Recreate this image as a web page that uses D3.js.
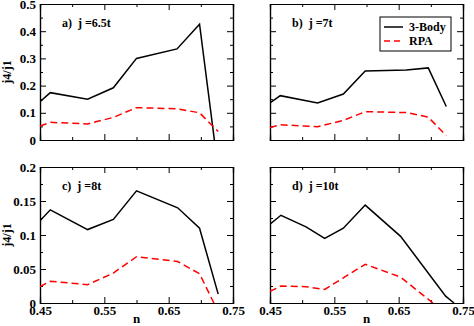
<!DOCTYPE html>
<html>
<head>
<meta charset="utf-8">
<script src="https://cdn.jsdelivr.net/npm/d3@7"></script>
<style>
  body { margin: 0; background: #fff; }
  svg text { font-family: "Liberation Serif", "Times New Roman", serif; font-weight: bold; }
</style>
</head>
<body>
<div id="chart"></div>
<script>
// data
var nA = [0.45, 0.466, 0.524, 0.564, 0.600, 0.663, 0.698, 0.727];
var bodyA = [0.141, 0.174, 0.150, 0.192, 0.300, 0.335, 0.426, -0.11];
var rpaA = [0.051, 0.065, 0.059, 0.083, 0.119, 0.115, 0.100, 0.031];

var nB = [0.45, 0.466, 0.524, 0.564, 0.598, 0.662, 0.696, 0.724];
var bodyB = [0.136, 0.163, 0.136, 0.169, 0.254, 0.257, 0.265, 0.123];
var rpaB = [0.046, 0.056, 0.049, 0.072, 0.104, 0.101, 0.084, 0.016];

var nC = [0.45, 0.466, 0.524, 0.564, 0.600, 0.664, 0.698, 0.727];
var bodyC = [0.121, 0.137, 0.108, 0.123, 0.165, 0.140, 0.110, 0.013];
var rpaC = [0.024, 0.032, 0.027, 0.044, 0.068, 0.061, 0.043, -0.013];

var nD = [0.45, 0.467, 0.506, 0.535, 0.564, 0.598, 0.653, 0.723, 0.736];
var bodyD = [0.116, 0.129, 0.112, 0.095, 0.110, 0.144, 0.098, 0.010, 0.0];
var rpaD = [0.017, 0.025, 0.024, 0.020, 0.037, 0.057, 0.038, -0.015, -0.03];

var xMajor = [0.45, 0.55, 0.65, 0.75];
var xMinor = [0.5, 0.6, 0.7];
var yMajorTop = [0, 0.1, 0.2, 0.3, 0.4, 0.5];
var yMinorTop = [0.05, 0.15, 0.25, 0.35, 0.45];
var yMajorBot = [0, 0.05, 0.1, 0.15, 0.2];
var yMinorBot = [0.025, 0.075, 0.125, 0.175];
var seriesNames = ["3-Body", "RPA"];

var width = 474, height = 326;

var svg = d3.select("#chart")
  .append("svg")
    .attr("width", width)
    .attr("height", height);

var panels = [
  {id: "a", left: 40, top: 4, n: nA, body: bodyA, rpa: rpaA, yMax: 0.5, yMaj: yMajorTop, yMin: yMinorTop, label: "a)  j =6.5t", yLabels: true, xLabels: false},
  {id: "b", left: 270, top: 4, n: nB, body: bodyB, rpa: rpaB, yMax: 0.5, yMaj: yMajorTop, yMin: yMinorTop, label: "b)  j =7t", yLabels: false, xLabels: false, legend: true},
  {id: "c", left: 40, top: 167, n: nC, body: bodyC, rpa: rpaC, yMax: 0.2, yMaj: yMajorBot, yMin: yMinorBot, label: "c)  j =8t", yLabels: true, xLabels: true},
  {id: "d", left: 270, top: 167, n: nD, body: bodyD, rpa: rpaD, yMax: 0.2, yMaj: yMajorBot, yMin: yMinorBot, label: "d)  j =10t", yLabels: false, xLabels: true}
];

var pw = 193, ph = 136;

var fmt = function(d){ return d === 0 ? "0" : String(+d.toFixed(3)); };

panels.forEach(function(p){
  var g = svg.append("g")
    .attr("transform", "translate(" + p.left + "," + p.top + ")");

  var x = d3.scaleLinear().domain([0.45, 0.75]).range([0, pw]);
  var y = d3.scaleLinear().domain([0, p.yMax]).range([ph, 0]);

  g.append("clipPath").attr("id", "clip" + p.id)
    .append("rect").attr("width", pw).attr("height", ph);

  // axes, ticks pointing inward
  g.append("g").attr("transform", "translate(0," + ph + ")")
    .call(d3.axisBottom(x).tickValues(xMajor).tickSize(-6).tickPadding(3)
      .tickFormat(p.xLabels ? fmt : function(){ return ""; }));
  g.append("g").attr("transform", "translate(0," + ph + ")")
    .call(d3.axisBottom(x).tickValues(xMinor).tickSize(-3).tickFormat(""));
  g.append("g")
    .call(d3.axisTop(x).tickValues(xMajor).tickSize(-6).tickFormat(""));
  g.append("g")
    .call(d3.axisTop(x).tickValues(xMinor).tickSize(-3).tickFormat(""));

  g.append("g")
    .call(d3.axisLeft(y).tickValues(p.yMaj).tickSize(-6).tickPadding(4)
      .tickFormat(p.yLabels ? fmt : function(){ return ""; }));
  g.append("g")
    .call(d3.axisLeft(y).tickValues(p.yMin).tickSize(-3).tickFormat(""));
  g.append("g").attr("transform", "translate(" + pw + ",0)")
    .call(d3.axisRight(y).tickValues(p.yMaj).tickSize(-6).tickFormat(""));
  g.append("g").attr("transform", "translate(" + pw + ",0)")
    .call(d3.axisRight(y).tickValues(p.yMin).tickSize(-3).tickFormat(""));

  g.selectAll(".domain").attr("stroke", "#000").attr("stroke-width", 1.2);
  g.selectAll(".tick line").attr("stroke", "#000").attr("stroke-width", 1);
  g.selectAll(".tick text").attr("font-size", 13).attr("fill", "#000");

  var line = d3.line()
    .x(function(d){ return x(d[0]); })
    .y(function(d){ return y(d[1]); });

  var lines = g.append("g").attr("clip-path", "url(#clip" + p.id + ")");

  lines.append("path")
    .datum(d3.zip(p.n, p.body))
    .attr("d", line)
    .attr("fill", "none")
    .attr("stroke", "#000")
    .attr("stroke-width", 1.5);

  lines.append("path")
    .datum(d3.zip(p.n, p.rpa))
    .attr("d", line)
    .attr("fill", "none")
    .attr("stroke", "#ff0000")
    .attr("stroke-width", 1.5)
    .attr("stroke-dasharray", "7,4");

  g.append("text")
    .attr("x", 22).attr("y", 23)
    .attr("font-size", 12)
    .style("white-space", "pre")
    .text(p.label);

  if (p.yLabels) {
    g.append("text")
      .attr("transform", "translate(" + (-29) + "," + (ph / 2) + ") rotate(-90)")
      .attr("text-anchor", "middle")
      .attr("font-size", 12)
      .text("j4/j1");
  }
  if (p.xLabels) {
    g.append("text")
      .attr("x", pw / 2).attr("y", ph + 20)
      .attr("text-anchor", "middle")
      .attr("font-size", 13)
      .text("n");
  }

  if (p.legend) {
    var lg = g.append("g").attr("transform", "translate(110,13)");
    lg.append("rect")
      .attr("width", 71).attr("height", 34)
      .attr("fill", "#fff").attr("stroke", "#000").attr("stroke-width", 1);
    seriesNames.forEach(function(name, i){
      var yy = 10 + i * 14;
      lg.append("line")
        .attr("x1", 4).attr("x2", 23).attr("y1", yy).attr("y2", yy)
        .attr("stroke", i === 0 ? "#000" : "#ff0000")
        .attr("stroke-width", 1.5)
        .attr("stroke-dasharray", i === 0 ? null : "6,4");
      lg.append("text")
        .attr("x", 29).attr("y", yy + 4)
        .attr("font-size", 12)
        .text(name);
    });
  }
});
</script>
</body>
</html>
